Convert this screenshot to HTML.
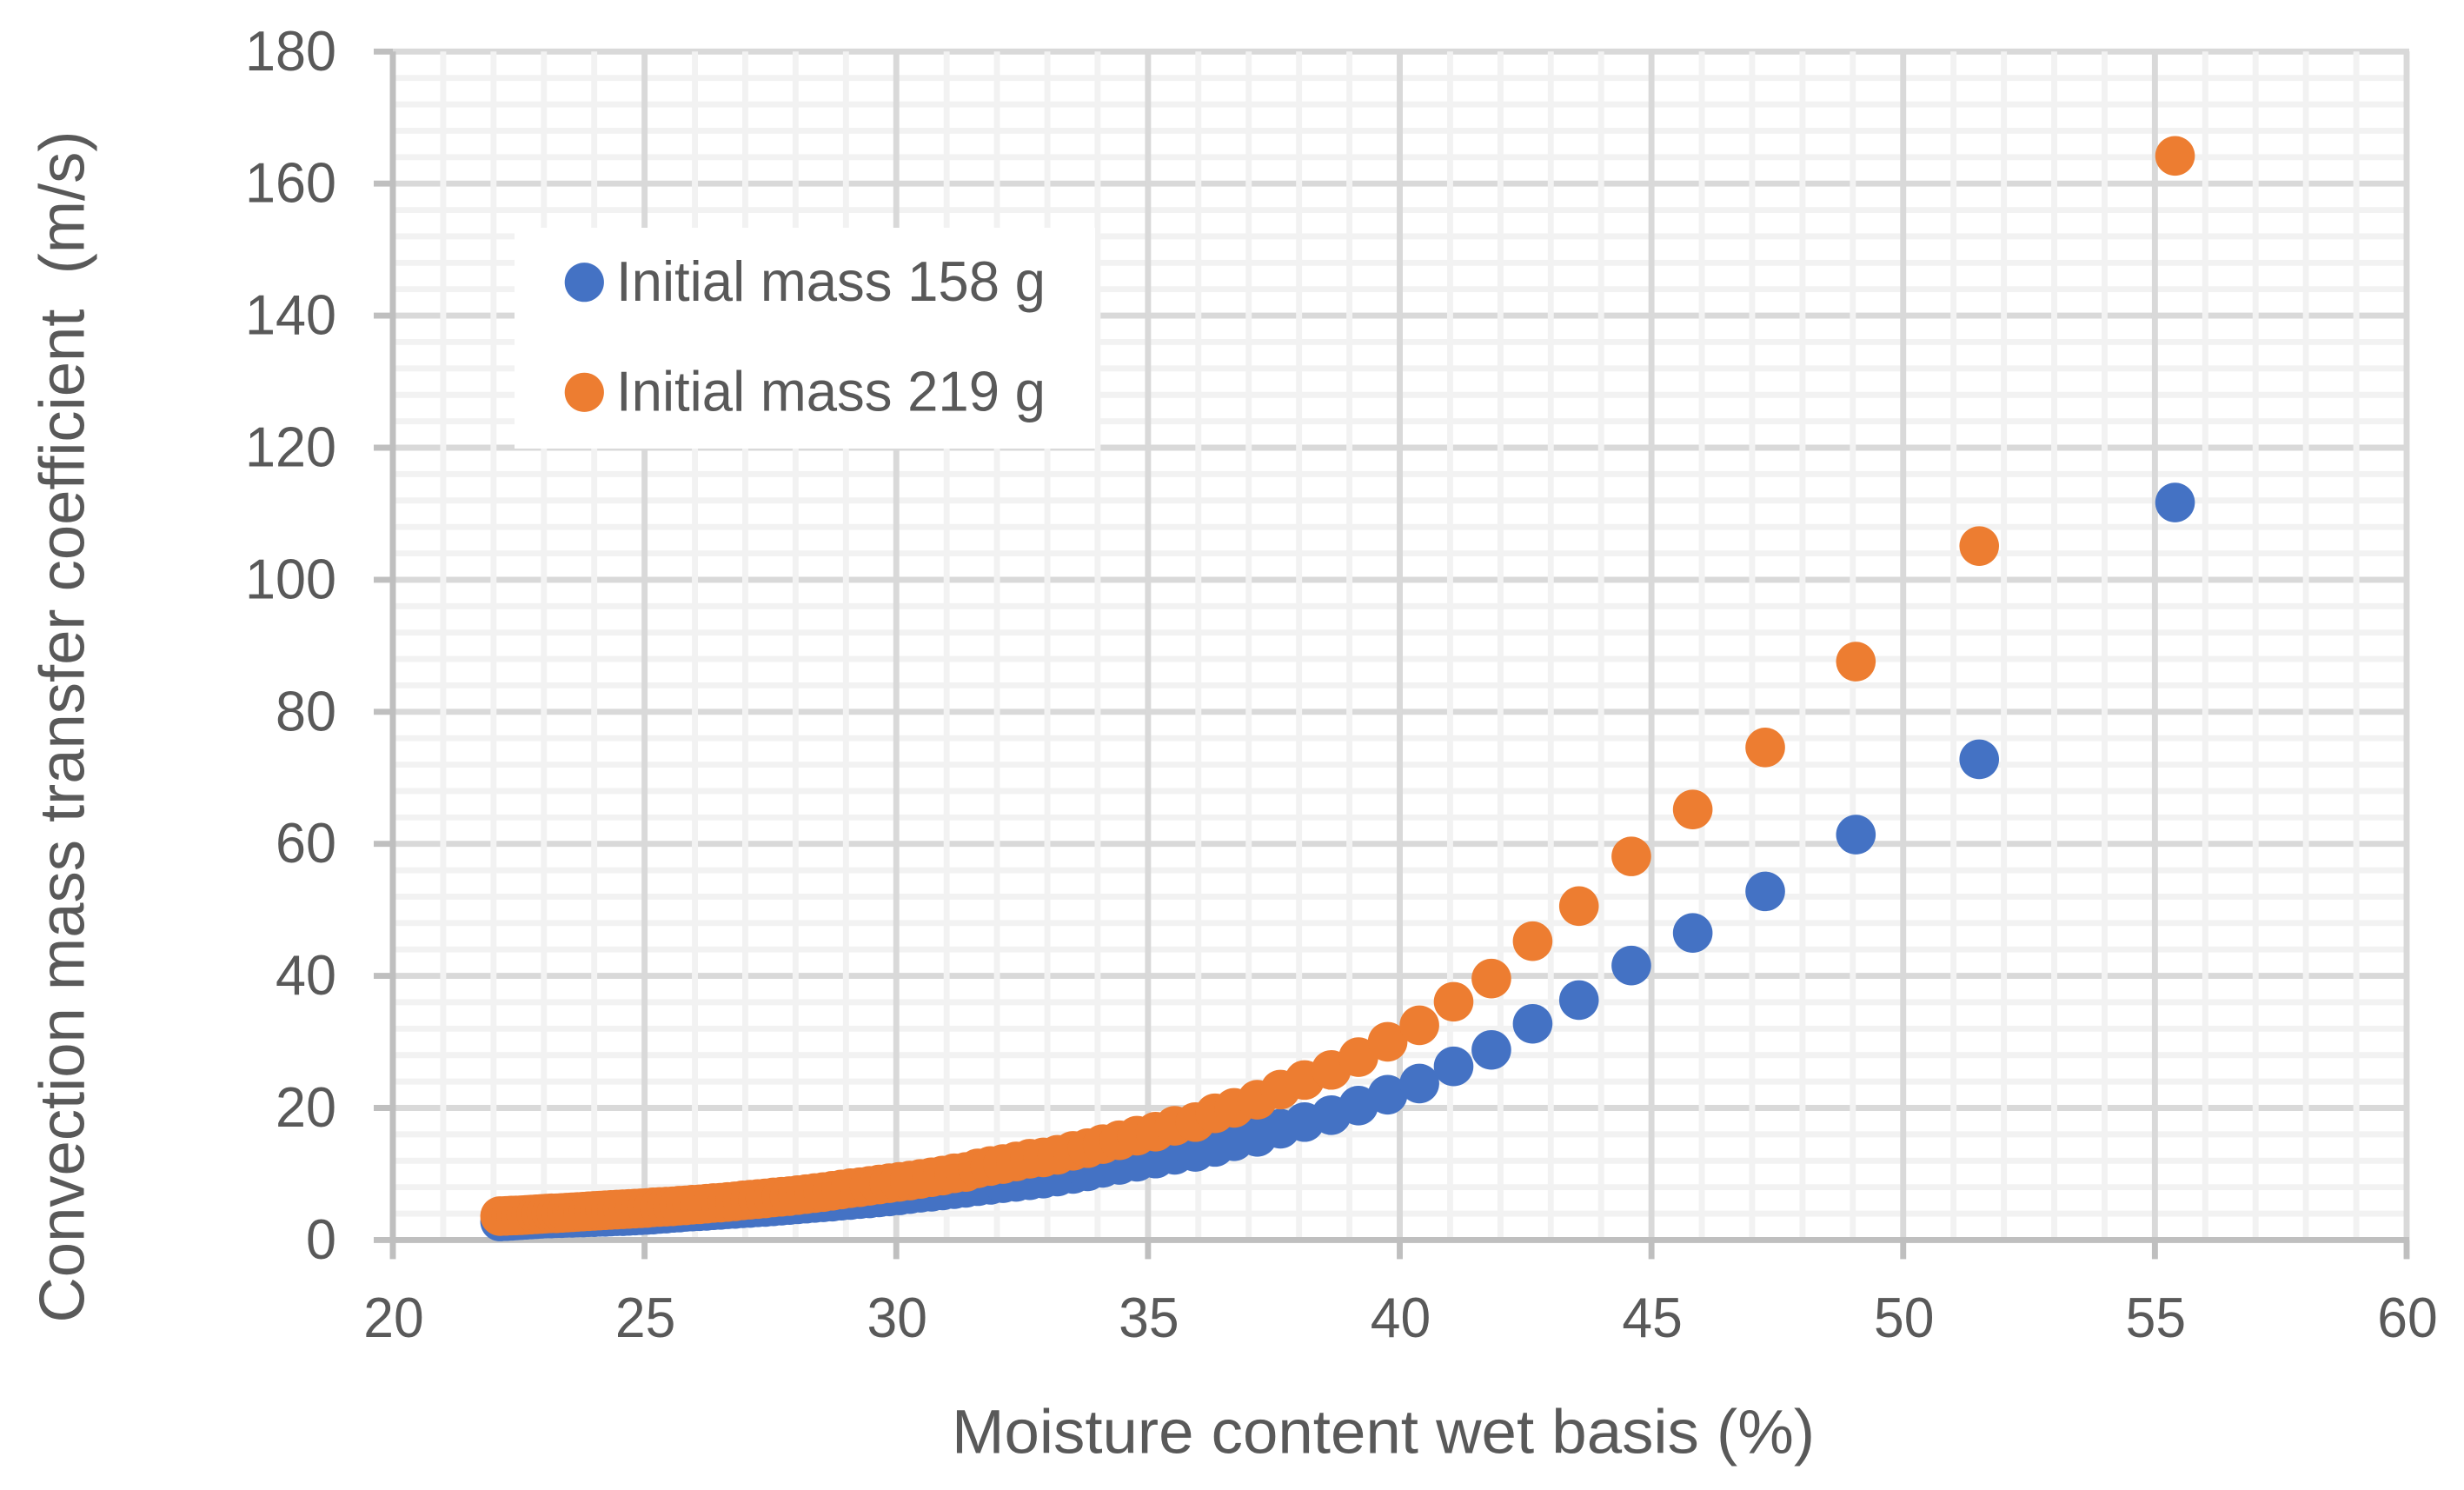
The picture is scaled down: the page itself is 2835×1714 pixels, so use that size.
<!DOCTYPE html>
<html lang="en">
<head>
<meta charset="utf-8">
<title>Convection mass transfer coefficient chart</title>
<style>
html,body{margin:0;padding:0;background:#fff;width:2835px;height:1714px;overflow:hidden}
svg{display:block}
text{font-family:"Liberation Sans",sans-serif;fill:#595959;white-space:pre}
</style>
</head>
<body>
<svg id="chart" xmlns="http://www.w3.org/2000/svg" width="2835" height="1714" viewBox="0 0 2835 1714">
  <rect x="0" y="0" width="2835" height="1714" fill="#ffffff"/>
  <g id="grid"></g>
  <g id="axes"></g>
  <g id="series-158"></g>
  <g id="series-219"></g>
  <g>
    <rect x="592" y="262" width="668" height="254" fill="#ffffff"/>
    <circle cx="672.3" cy="324.7" r="22.6" fill="#4472c4"/>
    <text x="709" y="346" font-size="65" textLength="494" lengthAdjust="spacingAndGlyphs">Initial mass 158 g</text>
    <circle cx="672.3" cy="451.3" r="22.6" fill="#ed7d31"/>
    <text x="709" y="472.7" font-size="65" textLength="494" lengthAdjust="spacingAndGlyphs">Initial mass 219 g</text>
  </g>
  <text x="1095" y="1671.7" font-size="71" textLength="993" lengthAdjust="spacingAndGlyphs">Moisture content wet basis (%)</text>
  <text transform="translate(96.5,1521.5) rotate(-90)" x="0" y="0" font-size="73" textLength="1371" lengthAdjust="spacingAndGlyphs">Convection mass transfer coefficient  (m/s)</text>
</svg>
<script>
const moistureContent = [55.4,51.51,49.06,47.26,45.82,44.6,43.56,42.64,41.82,41.07,40.39,39.76,39.18,38.64,38.11,37.63,37.17,36.71,36.33,35.94,35.53,35.15,34.78,34.43,34.1,33.8,33.51,33.2,
32.92,32.65,32.38,32.12,31.87,31.62,31.38,31.15,30.92,30.7,30.48,30.27,30.06,29.86,29.66,29.47,29.28,29.09,28.91,28.73,28.55,28.38,28.21,28.04,27.88,27.72,27.56,27.4,27.25,27.1,26.95,26.8,26.65,26.51,26.37,26.23,26.09,25.95,25.82,25.69,25.56,25.43,25.3,25.17,25.05,24.93,24.81,24.69,24.57,24.45,24.33,24.22,24.11,24.0,23.89,23.78,23.67,23.56,23.45,23.35,23.25,23.15,23.05,22.95,22.85,22.75,22.65,22.55,22.45,22.35,22.25,22.13];
const massTransfer158g = [111.7,72.8,61.4,52.8,46.5,41.57,36.34,32.74,28.79,26.29,23.7,22,20.36,18.91,17.86,16.85,15.62,14.96,14.09,13.34,12.9,12.33,11.85,11.36,10.92,10.4,10.0,9.6,
9.3,9.05,8.8,8.6,8.35,8.15,7.9,7.7,7.5,7.3,7.15,6.95,6.75,6.6,6.45,6.3,6.2,6.05,5.95,5.8,5.7,5.6,5.5,5.4,5.3,5.2,5.1,5.0,4.95,4.85,4.8,4.7,4.65,4.55,4.5,4.4,4.35,4.3,4.25,4.15,4.1,4.0,3.95,3.85,3.8,3.75,3.7,3.65,3.6,3.6,3.55,3.5,3.5,3.45,3.45,3.4,3.4,3.35,3.35,3.3,3.3,3.25,3.25,3.2,3.15,3.1,3.05,3.0,2.95,2.9,2.85,2.8];
const massTransfer219g = [164.2,105.1,87.6,74.6,65.2,58.1,50.57,45.25,39.59,36.08,32.52,30.02,27.69,25.76,24.23,22.78,21.24,20.01,19.18,17.86,17.29,16.41,15.8,15.1,14.52,13.91,13.5,12.9,
12.5,12.3,11.9,11.5,11.2,10.85,10.3,10.1,9.75,9.5,9.25,9.0,8.8,8.6,8.4,8.2,8.0,7.85,7.65,7.45,7.25,7.1,6.95,6.8,6.65,6.55,6.45,6.3,6.2,6.1,6.0,5.85,5.75,5.65,5.6,5.5,5.4,5.35,5.25,5.2,5.1,5.05,5.0,4.95,4.85,4.8,4.75,4.7,4.65,4.6,4.55,4.5,4.45,4.4,4.35,4.3,4.25,4.2,4.15,4.1,4.05,4.05,4.0,3.95,3.9,3.85,3.8,3.75,3.72,3.7,3.65,3.62];
const xTickLabels = ["20","25","30","35","40","45","50","55","60"];
const yTickLabels = ["0","20","40","60","80","100","120","140","160","180"];
const xMinorStep = 1;
const yMinorStep = 4;

const SVG_NS = "http://www.w3.org/2000/svg";
const plot = {left: 452, right: 2769, top: 59.3, bottom: 1426.4};
const xMin = Number(xTickLabels[0]);
const xMax = Number(xTickLabels[xTickLabels.length - 1]);
const yMin = Number(yTickLabels[0]);
const yMax = Number(yTickLabels[yTickLabels.length - 1]);
function xScale(v) { return plot.left + (v - xMin) / (xMax - xMin) * (plot.right - plot.left); }
function yScale(v) { return plot.bottom - (v - yMin) / (yMax - yMin) * (plot.bottom - plot.top); }

const gridGroup = document.getElementById("grid");
const axesGroup = document.getElementById("axes");

function addLine(parent, name, x1, y1, x2, y2, color) {
  const el = document.createElementNS(SVG_NS, "line");
  
  
  el.setAttribute("x1", x1);
  el.setAttribute("y1", y1);
  el.setAttribute("x2", x2);
  el.setAttribute("y2", y2);
  el.setAttribute("stroke", color);
  el.setAttribute("stroke-width", 6.9);
  parent.appendChild(el);
}

function addLabel(name, text, x, y, anchor, width) {
  const el = document.createElementNS(SVG_NS, "text");
  
  
  el.setAttribute("x", x);
  el.setAttribute("y", y);
  el.setAttribute("font-size", 65);
  el.setAttribute("text-anchor", anchor);
  el.setAttribute("textLength", width);
  el.setAttribute("lengthAdjust", "spacingAndGlyphs");
  el.textContent = text;
  axesGroup.appendChild(el);
}

const majorColor = "#d9d9d9";
const minorColor = "#f2f2f2";
const axisColor = "#bfbfbf";
const xMajor = xTickLabels.map(Number);
const yMajor = yTickLabels.map(Number);

yMajor.forEach(function (v) {
  if (v !== yMin) addLine(gridGroup, "y-major-gridline-" + v, plot.left, yScale(v), plot.right + 3, yScale(v), majorColor);
});
for (let v = yMin + yMinorStep; v < yMax; v += yMinorStep) {
  if (!yMajor.includes(v)) addLine(gridGroup, "y-minor-gridline-" + v, plot.left, yScale(v), plot.right, yScale(v), minorColor);
}
for (let v = xMin + xMinorStep; v < xMax; v += xMinorStep) {
  if (!xMajor.includes(v)) addLine(gridGroup, "x-minor-gridline-" + v, xScale(v), plot.top, xScale(v), plot.bottom, minorColor);
}
xMajor.forEach(function (v) {
  if (v !== xMin) addLine(gridGroup, "x-major-gridline-" + v, xScale(v), plot.top, xScale(v), plot.bottom, majorColor);
});

addLine(axesGroup, "y-axis-line", plot.left, plot.top, plot.left, plot.bottom, axisColor);
addLine(axesGroup, "x-axis-line", plot.left, plot.bottom, plot.right + 3, plot.bottom, axisColor);

yTickLabels.forEach(function (label) {
  const v = Number(label);
  addLine(axesGroup, "y-tick-" + label, plot.left - 22, yScale(v), plot.left, yScale(v), axisColor);
  addLabel("y-tick-label-" + label, label, 387, yScale(v) + 21.5, "end", label.length * 35);
});
xTickLabels.forEach(function (label) {
  const v = Number(label);
  addLine(axesGroup, "x-tick-" + label, xScale(v), plot.bottom, xScale(v), plot.bottom + 22, axisColor);
  addLabel("x-tick-label-" + label, label, xScale(v) + 1, 1538, "middle", label.length * 34.7);
});

function drawSeries(groupId, values, color, seriesName) {
  const group = document.getElementById(groupId);
  for (let i = values.length - 1; i >= 0; i--) {
    const el = document.createElementNS(SVG_NS, "circle");
    
    
    el.setAttribute("cx", xScale(moistureContent[i]));
    el.setAttribute("cy", yScale(values[i]));
    el.setAttribute("r", 22.8);
    el.setAttribute("fill", color);
    group.appendChild(el);
  }
}
drawSeries("series-158", massTransfer158g, "#4472c4", "mass-158-g");
drawSeries("series-219", massTransfer219g, "#ed7d31", "mass-219-g");
</script>
</body>
</html>
